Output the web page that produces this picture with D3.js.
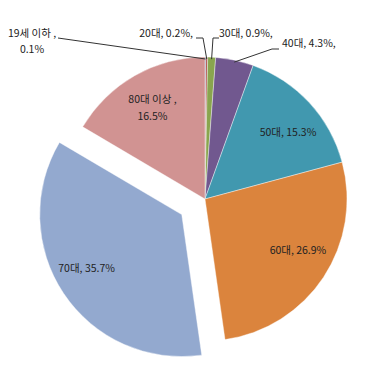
<!DOCTYPE html>
<html>
<head>
<meta charset="utf-8">
<script src="https://cdn.jsdelivr.net/npm/d3@7"></script>
<style>
  body { margin: 0; background: #fff; }
  text { font-family: "Noto Sans CJK KR", "Malgun Gothic", sans-serif; font-size: 10.5px; fill: #222; }
</style>
</head>
<body>
<div class="chart"></div>
<script>
const categories = ['19세 이하', '20대', '30대', '40대', '50대', '60대', '70대', '80대 이상'];
const values = [0.1, 0.2, 0.9, 4.3, 15.3, 26.9, 35.7, 16.5];
const colors = ['#4572A7', '#AA4643', '#89A54E', '#71588F', '#4198AF', '#DB843D', '#93A9CF', '#D19392'];
const exploded = ['70대'];

const width = 368;
const height = 376;
const cx = 205, cy = 199;
const radius = 142;

const svg = d3.select('.chart')
    .append('svg')
    .attr('width', width)
    .attr('height', height)
    .append('g')
    .attr('transform', `translate(${cx}, ${cy})`);

const data = categories.map((c, i) => ({ name: c, value: values[i], color: colors[i] }));

const pie = d3.pie().sort(null).value(d => d.value);
const arc = d3.arc().innerRadius(0).outerRadius(radius);
const labelArc = d3.arc().innerRadius(106).outerRadius(106);
const arcs = pie(data);

// pull the exploded slice out along its middle angle
const offset = d => {
    if (!exploded.includes(d.data.name)) return [0, 0];
    const a = (d.startAngle + d.endAngle) / 2;
    return [Math.sin(a) * 28, -Math.cos(a) * 28];
};

svg.selectAll('path.slice')
    .data(arcs)
    .enter().append('path')
    .attr('class', 'slice')
    .attr('d', arc)
    .attr('fill', d => d.data.color)
    .attr('stroke', '#fff')
    .attr('stroke-width', 0.4)
    .attr('transform', d => `translate(${offset(d)})`);

// labels inside the big slices (small nudges from the centroid)
const nudge = {
    '50대': [5, 5],
    '60대': [4.5, -7.5],
    '70대': [-7, -5.5],
    '80대 이상': [0, -8]
};
arcs.filter(d => d.data.value > 10).forEach(d => {
    const [ox, oy] = offset(d);
    const [lx, ly] = labelArc.centroid(d);
    const [nx, ny] = nudge[d.data.name] || [0, 0];
    const x = lx + ox + nx;
    const y = ly + oy + 4 + ny;
    const t = svg.append('text')
        .attr('text-anchor', 'middle')
        .attr('x', x)
        .attr('y', y);
    if (d.data.name === '80대 이상') {
        t.append('tspan').attr('x', x).text(`${d.data.name} ,`);
        t.append('tspan').attr('x', x).attr('dy', 17).text(`${d.data.value}%`);
    } else {
        t.text(`${d.data.name}, ${d.data.value}%`);
    }
});

// small slices: labels outside with leader lines (label layout in page coords)
const outside = {
    '19세 이하': { tx: 32, ty: 37, anchor: 'middle', line: [[58, 38]] },
    '20대': { tx: 193, ty: 37, anchor: 'end', line: [[196, 38], [203, 38]] },
    '30대': { tx: 219, ty: 37, anchor: 'start', line: [[219, 38], [213, 38]] },
    '40대': { tx: 282, ty: 47, anchor: 'start', line: [[279, 49], [272, 49]] }
};

arcs.filter(d => outside[d.data.name]).forEach(d => {
    const o = outside[d.data.name];
    const a = (d.startAngle + d.endAngle) / 2;
    const edge = [cx + Math.sin(a) * (radius - 2), cy - Math.cos(a) * (radius - 2)];
    const pts = o.line.concat([edge]).map(p => [p[0] - cx, p[1] - cy]);
    svg.append('path')
        .attr('d', d3.line()(pts))
        .attr('fill', 'none')
        .attr('stroke', '#333')
        .attr('stroke-width', 1);
    const t = svg.append('text')
        .attr('text-anchor', o.anchor)
        .attr('x', o.tx - cx)
        .attr('y', o.ty - cy);
    if (d.data.name === '19세 이하') {
        t.append('tspan').attr('x', o.tx - cx).text(`${d.data.name} ,`);
        t.append('tspan').attr('x', o.tx - cx).attr('dy', 16).text(`${d.data.value}%`);
    } else {
        t.text(`${d.data.name}, ${d.data.value}%,`);
    }
});
</script>
</body>
</html>
